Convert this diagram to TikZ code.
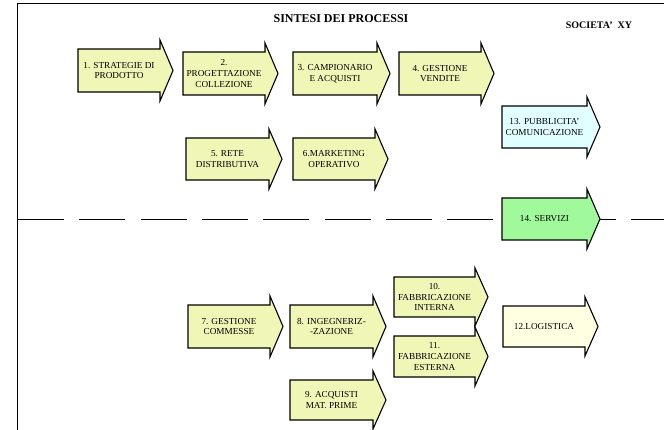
\documentclass[tikz,border=0pt]{standalone}
\usepackage{fontspec}
\setmainfont{Liberation Serif}
\definecolor{procyellow}{RGB}{240,246,182}
\definecolor{logyellow}{RGB}{255,255,226}
\definecolor{pubcyan}{RGB}{226,255,255}
\definecolor{servgreen}{RGB}{160,250,155}
\tikzset{
  procshape/.style={draw=black, line width=1.1pt, line join=miter},
  proctext/.style={font=\fontsize{9.2}{10.8}\selectfont, align=center, inner sep=0pt},
  titletext/.style={font=\bfseries\fontsize{12}{14}\selectfont, inner sep=0pt},
  companytext/.style={font=\bfseries\fontsize{10}{12}\selectfont, inner sep=0pt},
  framerule/.style={draw=black, line width=1pt},
  splitrule/.style={draw=black, line width=0.9pt, dash pattern=on 46pt off 15.3pt},
}
% #1 name, #2 x left, #3 x head base, #4 y top, #5 y bottom, #6 fill, #7 text
\newcommand{\procarrow}[7]{%
  \draw[procshape, fill=#6] (#2,#4) -- (#3,#4) -- ({#3},{#4-9}) -- ({#3+13},{(#4+#5)/2})
    -- ({#3},{#5+9}) -- (#3,#5) -- (#2,#5) -- cycle;
  \node[proctext] (#1) at ({(#2+#3)/2},{(#4+#5)/2}) {#7};
}
\begin{document}
\begin{tikzpicture}[x=1pt, y=-1pt]
\useasboundingbox (0,0) rectangle (664,430);
\fill[white] (0,0) rectangle (664,430);
% frame
\draw[framerule] (17,430) -- (17,4) -- (664,4);
% dashed separator
\draw[splitrule] (18,219) -- (664,219);
% titles
\node[titletext] (title) at (341,19) {SINTESI DEI PROCESSI};
\node[companytext] (company) at (599,25) {SOCIETA'\ \ XY};
% upper processes
\procarrow{a1}{78}{160}{49}{92}{procyellow}{1. STRATEGIE DI\\PRODOTTO}
\procarrow{a2}{183}{265}{52}{95}{procyellow}{2.\\PROGETTAZIONE\\COLLEZIONE}
\procarrow{a3}{293}{377}{52}{95}{procyellow}{3. CAMPIONARIO\\E ACQUISTI}
\procarrow{a4}{399}{481}{52}{95}{procyellow}{4. GESTIONE\\VENDITE}
\procarrow{a5}{186}{269}{138}{180}{procyellow}{5. RETE\\DISTRIBUTIVA}
\procarrow{a6}{293}{375}{138}{180}{procyellow}{6.MARKETING\\OPERATIVO}
\procarrow{a13}{502}{587}{106}{148}{pubcyan}{13. PUBBLICITA'\\COMUNICAZIONE}
\procarrow{a14}{502}{587}{198}{240}{servgreen}{14. SERVIZI}
% lower processes
\procarrow{a7}{188}{270}{305}{348}{procyellow}{7. GESTIONE\\COMMESSE}
\procarrow{a8}{290}{373}{305}{348}{procyellow}{8. INGEGNERIZ-\\-ZAZIONE}
\procarrow{a9}{290}{373}{380}{420}{procyellow}{9. ACQUISTI\\MAT. PRIME}
\procarrow{a10}{394}{475}{277}{317}{procyellow}{10.\\FABBRICAZIONE\\INTERNA}
\procarrow{a11}{394}{475}{336}{377}{procyellow}{11.\\FABBRICAZIONE\\ESTERNA}
\procarrow{a12}{503}{585}{306}{347}{logyellow}{12.LOGISTICA}
\end{tikzpicture}
\end{document}
